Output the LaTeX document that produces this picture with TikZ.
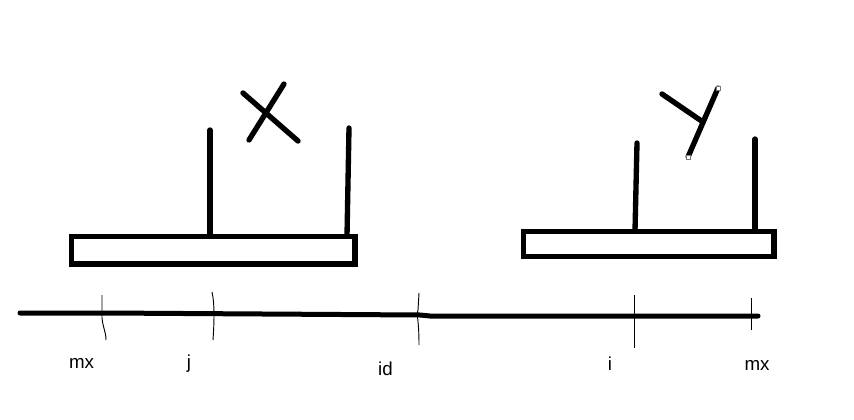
\documentclass[tikz,border=0pt]{standalone}
\usepackage{fontspec}
\setmainfont{Liberation Sans}
\usepackage{tikz}
\usetikzlibrary{calc}
\definecolor{handlegray}{RGB}{120,120,120}

\begin{document}
\begin{tikzpicture}[x=0.03cm,y=-0.03cm,
    pen/.style={line width=0.16cm,line cap=round,line join=miter},
    benchbox/.style={line width=0.16cm,line join=miter},
    axisline/.style={line width=0.15cm,line cap=round},
    tickline/.style={line width=0.8pt},
    lbl/.style={anchor=base,inner sep=0pt,font=\fontsize{16}{19}\selectfont}]
    \useasboundingbox (0,0) rectangle (854,420);
    % left bench with X
    \draw[benchbox] (71.5,236.5) rectangle (355,264);
    \draw[pen] (210,130) -- (210,236);
    \draw[pen] (349,128) -- (347,236);
    \draw[pen] (243,93) -- (298,141);
    \draw[pen] (284,84) -- (249,140);
    % right bench with Y
    \draw[benchbox] (523.5,231.5) rectangle (774,256.5);
    \draw[pen] (637,143) -- (635,231);
    \draw[pen] (755,139) -- (755,231);
    \draw[pen] (662,94) -- (703,122);
    \draw[pen] (718,88) -- (688,157);
    \draw[handlegray,line width=0.4pt,fill=white] (716,86) rectangle (720,90);
    \draw[handlegray,line width=0.4pt,fill=white] (686,155) rectangle (690,159);
    % axis
    \draw[axisline] (20,313) -- (105,313) -- (420,315) -- (430,316) -- (758,316);
    \draw[tickline] (102,295) -- (102,318) .. controls (103,328) and (106,332) .. (106,340);
    \draw[tickline] (212,292) .. controls (215,305) and (214,325) .. (213,340);
    \draw[tickline] (419,293) -- (418,310) .. controls (416,314) and (419,318) .. (419,345);
    \draw[tickline] (634,295) -- (634,348);
    \draw[tickline] (751,298) -- (751,330);
    % labels
    \node[lbl] (mxl) at (81.5,368) {mx};
    \node[lbl] (jl) at (189,368) {j};
    \node[lbl] (idl) at (385.5,375) {id};
    \node[lbl] (il) at (610,370) {i};
    \node[lbl] (mxr) at (757,370) {mx};
\end{tikzpicture}
\end{document}
